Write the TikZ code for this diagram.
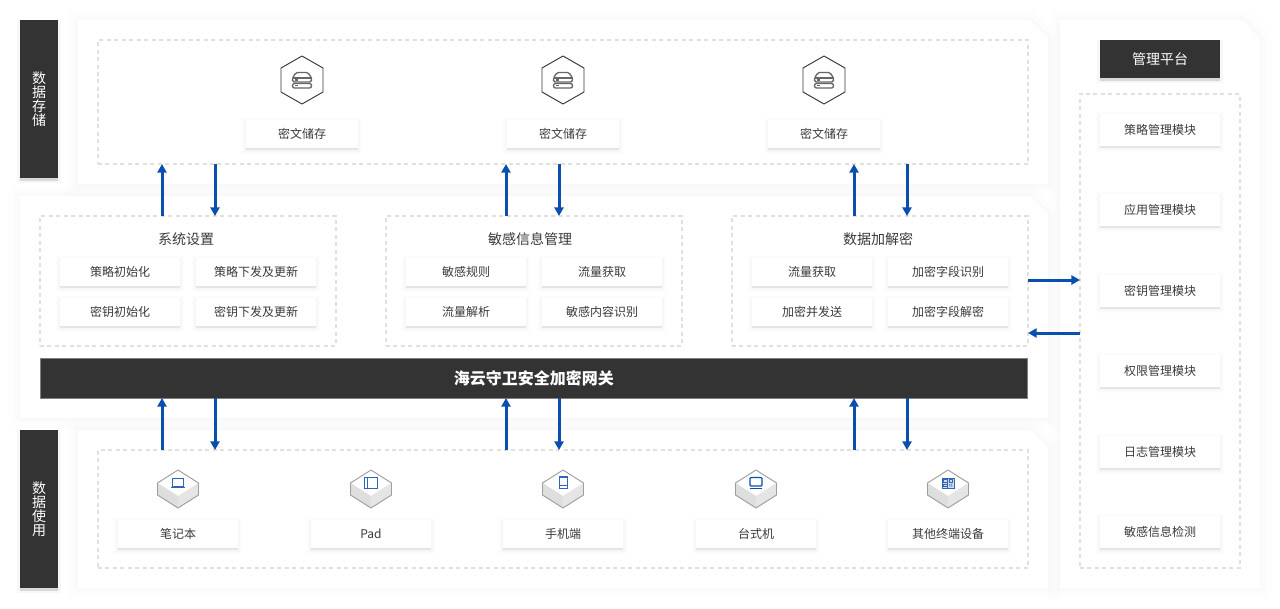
\documentclass[tikz,border=0pt]{standalone}
\usepackage{fontspec}
\setmainfont{Noto Sans CJK SC}
\usetikzlibrary{arrows.meta}
\definecolor{ink}{HTML}{3A3A3A}
\definecolor{darkbar}{HTML}{333333}
\definecolor{flowblue}{HTML}{0B4FAE}
\definecolor{dashgrey}{HTML}{E0E0E0}
\definecolor{iconblue}{HTML}{2F66B8}
\newcommand{\fontXII}{\fontsize{9pt}{12pt}\selectfont}
\newcommand{\fontXIV}{\fontsize{10.5pt}{10.5pt}\selectfont}
\newcommand{\fontXVI}{\fontsize{12pt}{14pt}\selectfont\bfseries}
\newcommand{\dn}[1]{\raisebox{-.8pt}{#1}}
% box node: style, name, x1, y1, x2, y2, text
\newcommand{\bx}[7]{\node[#1,minimum width={(#5-#3)*0.75pt},minimum height={(#6-#4)*0.75pt}] (#2) at ({(#3+#5)/2},{(#4+#6)/2}) {#7};}
\tikzset{
  x=0.75pt,y=-0.75pt,
  panelshadow/.style={
    preaction={draw=black,draw opacity=.004,line width=18pt},
    preaction={draw=black,draw opacity=.005,line width=12pt},
    preaction={draw=black,draw opacity=.006,line width=7pt},
    preaction={draw=black,draw opacity=.006,line width=3pt},
    fill=white},
  cardbox/.style={fill=white,text=ink,font=\fontXII,inner sep=0pt,outer sep=0pt,
    preaction={draw=black,draw opacity=.010,line width=6pt,transform canvas={yshift=-1.5pt}},
    preaction={draw=black,draw opacity=.018,line width=3pt,transform canvas={yshift=-1.5pt}},
    preaction={fill=black,fill opacity=.07,transform canvas={yshift=-1.5pt}}},
  darkbox/.style={fill=darkbar,text=white,inner sep=0pt,outer sep=0pt,
    preaction={draw=black,draw opacity=.03,line width=4pt,transform canvas={yshift=-2pt}},
    preaction={fill=black,fill opacity=.12,transform canvas={yshift=-2pt}}},
  sidebar/.style={darkbox,font=\fontXIV,align=center},
  dashbox/.style={draw=dashgrey,line width=1.1pt,dash pattern=on 3pt off 2.6pt,inner sep=0pt,outer sep=0pt,text=ink,font=\fontXIV},
  flow/.style={draw=flowblue,line width=2.25pt,-{Triangle[length=6.5pt,width=6.8pt]}},
  boxtitle/.style={text=ink,font=\fontXIV,inner sep=0pt},
  pics/cube/.style={code={
    \fill[white] (0,0)--(20.5,13)--(0,26)--(-20.5,13)--cycle;
    \fill[black!13] (-20.5,13)--(0,26)--(0,38)--(-20.5,25)--cycle;
    \fill[black!10] (20.5,13)--(0,26)--(0,38)--(20.5,25)--cycle;
    \draw[black!38,line width=.7pt,line join=round] (0,0)--(20.5,13)--(20.5,25)--(0,38)--(-20.5,25)--(-20.5,13)--cycle;
  }},
  pics/storeicon/.style={code={
    \draw[black!78,line width=.7pt,line join=round] (0,-24)--(21,-12)--(21,12)--(0,24)--(-21,12)--(-21,-12)--cycle;
    \draw[black!60,line width=1pt,rounded corners=1.2pt,line join=round] (-9.5,2)--(-9.5,-2)--(-6,-7.5)--(6,-7.5)--(9.5,-2)--(9.5,2)--cycle;
    \draw[black!60,line width=.8pt] (-9.5,-2)--(9.5,-2);
    \draw[black!60,line width=1pt,rounded corners=1.5pt] (-9.5,3.5) rectangle (9.5,8);
    \draw[black!60,line width=.8pt] (-7,0)--(-4,0) (-7,5.8)--(-4,5.8);
  }},
  iconline/.style={draw=iconblue,line width=.7pt},
  pics/laptopicon/.style={code={
    \draw[iconline] (-5.5,-5) rectangle (5.5,3);
    \draw[iconline,line width=.9pt] (-6.8,4.2)--(6.8,4.2);
  }},
  pics/padicon/.style={code={
    \draw[iconline,line width=.8pt] (-6.5,-5.5) rectangle (6.5,5.5);
    \draw[iconline,line width=.8pt] (-3.8,-5.5)--(-3.8,5.5);
  }},
  pics/phoneicon/.style={code={
    \draw[iconline] (-4,-6) rectangle (4,6);
    \draw[iconline] (-4,-4.8)--(4,-4.8) (-4,3.8)--(4,3.8);
  }},
  pics/desktopicon/.style={code={
    \draw[iconline,draw=flowblue,line width=.9pt,rounded corners=.8pt] (-6,-5.5) rectangle (6,3);
    \draw[iconline,draw=flowblue,line width=1pt] (-6,5.3)--(6,5.3);
  }},
  pics/gridicon/.style={code={
    \fill[iconblue!22] (-6,-5) rectangle (6,5);
    \draw[iconline] (-6,-5) rectangle (6,5);
    \foreach \a/\b in {-4.5/-3.5,1/-3.5,-4.5/1}{\draw[iconline,line width=.6pt] (\a,\b) rectangle ++(3.5,2.5);}
    \fill[iconblue] (1,1) rectangle (2.2,2) (3,2.4) rectangle (4.4,3.4) (1.4,2.8) rectangle (2.4,3.6) (3,.8) rectangle (4.2,1.6);
    \draw[iconline,line width=.5pt] (-.2,-5)--(-.2,5);
  }},
}
\begin{document}
\begin{tikzpicture}
\useasboundingbox (0,0) rectangle (1280,608);
\fill[white] (0,0) rectangle (1280,608);
% panels
\path[panelshadow] (78,20)--(1030,20)--(1048,38)--(1048,184)--(78,184)--cycle;
\path[panelshadow] (20,196)--(1030,196)--(1048,214)--(1048,418)--(20,418)--cycle;
\path[panelshadow] (78,430)--(1030,430)--(1048,448)--(1048,588)--(78,588)--cycle;
\path[panelshadow] (1060,20)--(1242,20)--(1260,39)--(1260,588)--(1060,588)--cycle;
% side bars
\bx{sidebar}{sideStore}{20}{20}{58}{178}{\dn{数}\\\dn{据}\\\dn{存}\\\dn{储}}
\bx{sidebar}{sideUse}{20}{430}{58}{588}{\dn{数}\\\dn{据}\\\dn{使}\\\dn{用}}
% dashed containers
\bx{dashbox}{storeBox}{98}{40}{1028}{164}{}
\bx{dashbox}{sysBox}{40}{216}{336}{346}{}
\bx{dashbox}{infoBox}{386}{216}{682}{346}{}
\bx{dashbox}{cryptBox}{732}{216}{1028}{346}{}
\bx{dashbox}{useBox}{98}{450}{1028}{568}{}
\bx{dashbox}{mgmtBox}{1080}{94}{1240}{568}{}
% storage
\pic at (302,80) {storeicon};
\pic at (563,80) {storeicon};
\pic at (824,80) {storeicon};
\bx{cardbox}{storeA}{246}{120}{358}{148}{密文储存}
\bx{cardbox}{storeB}{507}{120}{619}{148}{密文储存}
\bx{cardbox}{storeC}{768}{120}{880}{148}{密文储存}
% titles
\node[boxtitle] (sysTitle) at (186,239) {系统设置};
\node[boxtitle] (infoTitle) at (530,239) {敏感信息管理};
\node[boxtitle] (cryptTitle) at (878,239) {数据加解密};
% middle cards
\bx{cardbox}{a1}{60}{258}{180}{286}{策略初始化}
\bx{cardbox}{a2}{196}{258}{316}{286}{策略下发及更新}
\bx{cardbox}{a3}{60}{298}{180}{326}{密钥初始化}
\bx{cardbox}{a4}{196}{298}{316}{326}{密钥下发及更新}
\bx{cardbox}{b1}{406}{258}{526}{286}{敏感规则}
\bx{cardbox}{b2}{542}{258}{662}{286}{流量获取}
\bx{cardbox}{b3}{406}{298}{526}{326}{流量解析}
\bx{cardbox}{b4}{542}{298}{662}{326}{敏感内容识别}
\bx{cardbox}{c1}{752}{258}{872}{286}{流量获取}
\bx{cardbox}{c2}{888}{258}{1008}{286}{加密字段识别}
\bx{cardbox}{c3}{752}{298}{872}{326}{加密并发送}
\bx{cardbox}{c4}{888}{298}{1008}{326}{加密字段解密}
% gateway
\bx{fill=darkbar,text=white,inner sep=0pt,outer sep=0pt,draw=black!50,line width=.6pt,font=\fontXVI}{gateway}{40}{358}{1027.5}{398}{海云守卫安全加密网关}
% devices
\pic at (178,470) {cube};
\pic at (371,470) {cube};
\pic at (563,470) {cube};
\pic at (756,470) {cube};
\pic at (948,470) {cube};
\pic at (178,483) {laptopicon};
\pic at (371,483) {padicon};
\pic at (563,482) {phoneicon};
\pic at (756,483) {desktopicon};
\pic at (948,483) {gridicon};
\bx{cardbox}{devA}{118}{520}{238}{548}{笔记本}
\bx{cardbox}{devB}{311}{520}{431}{548}{Pad}
\bx{cardbox}{devC}{503}{520}{623}{548}{手机端}
\bx{cardbox}{devD}{696}{520}{816}{548}{台式机}
\bx{cardbox}{devE}{888}{520}{1008}{548}{其他终端设备}
% management
\bx{darkbox,font=\fontXIV}{mgmtHead}{1100}{40}{1220}{78}{管理平台}
\bx{cardbox}{m1}{1100}{114}{1220}{146}{策略管理模块}
\bx{cardbox}{m2}{1100}{194}{1220}{226}{应用管理模块}
\bx{cardbox}{m3}{1100}{275}{1220}{307}{密钥管理模块}
\bx{cardbox}{m4}{1100}{355}{1220}{387}{权限管理模块}
\bx{cardbox}{m5}{1100}{436}{1220}{468}{日志管理模块}
\bx{cardbox}{m6}{1100}{516}{1220}{548}{敏感信息检测}
% connector x / y positions
\foreach \n/\v in {p1/162,p2/215,p3/506,p4/559,p5/854,p6/907}{\coordinate (\n) at (\v,0);}
\coordinate (h1) at (0,280);
\coordinate (h2) at (0,333);
% storage <-> processing
\draw[flow] (sysBox.north -| p1) -- (storeBox.south -| p1);
\draw[flow] (storeBox.south -| p2) -- (sysBox.north -| p2);
\draw[flow] (infoBox.north -| p3) -- (storeBox.south -| p3);
\draw[flow] (storeBox.south -| p4) -- (infoBox.north -| p4);
\draw[flow] (cryptBox.north -| p5) -- (storeBox.south -| p5);
\draw[flow] (storeBox.south -| p6) -- (cryptBox.north -| p6);
% gateway <-> devices
\draw[flow] (useBox.north -| p1) -- (gateway.south -| p1);
\draw[flow] (gateway.south -| p2) -- (useBox.north -| p2);
\draw[flow] (useBox.north -| p3) -- (gateway.south -| p3);
\draw[flow] (gateway.south -| p4) -- (useBox.north -| p4);
\draw[flow] (useBox.north -| p5) -- (gateway.south -| p5);
\draw[flow] (gateway.south -| p6) -- (useBox.north -| p6);
% processing <-> management
\draw[flow] (cryptBox.east |- h1) -- (mgmtBox.west |- h1);
\draw[flow] (mgmtBox.west |- h2) -- (cryptBox.east |- h2);
\end{tikzpicture}
\end{document}
